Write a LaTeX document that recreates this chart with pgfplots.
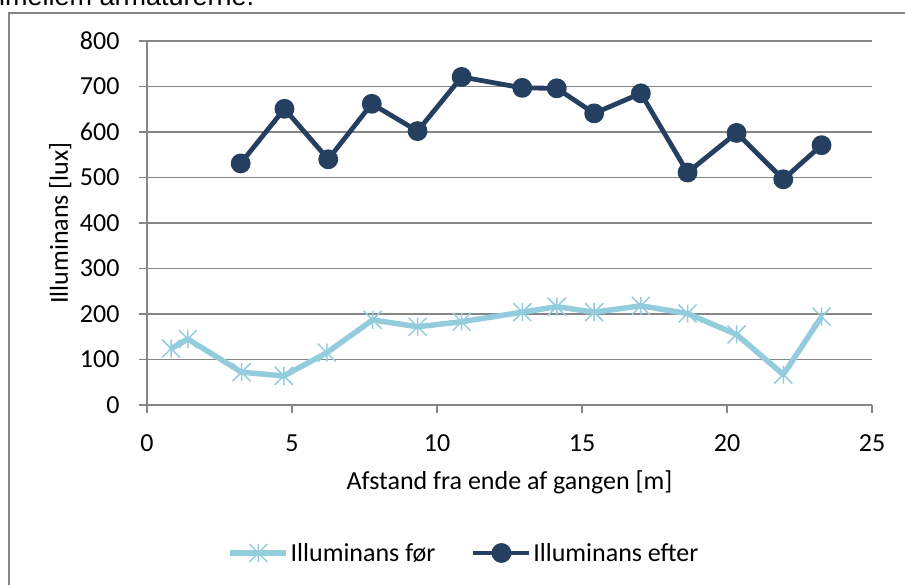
\documentclass[border=0pt]{standalone}
\usepackage{pgfplots}
\pgfplotsset{compat=1.18}
\usepackage{fontspec}
\setmainfont{Carlito}
\newfontfamily\arialfont{Liberation Sans}
\definecolor{before}{HTML}{93CDDD}
\definecolor{after}{HTML}{243F60}
\definecolor{gridgray}{HTML}{868686}
\pgfdeclareplotmark{xstar}{%
 \pgfpathmoveto{\pgfqpoint{0pt}{\pgfplotmarksize}}%
 \pgfpathlineto{\pgfqpoint{0pt}{-\pgfplotmarksize}}%
 \pgfpathmoveto{\pgfqpoint{\pgfplotmarksize}{\pgfplotmarksize}}%
 \pgfpathlineto{\pgfqpoint{-\pgfplotmarksize}{-\pgfplotmarksize}}%
 \pgfpathmoveto{\pgfqpoint{-\pgfplotmarksize}{\pgfplotmarksize}}%
 \pgfpathlineto{\pgfqpoint{\pgfplotmarksize}{-\pgfplotmarksize}}%
 \pgfusepathqstroke}
\begin{document}
\begin{tikzpicture}
\useasboundingbox (0pt,0pt) rectangle (905pt,-585pt);
\clip (0pt,0pt) rectangle (905pt,-585pt);
\node[anchor=base west, inner sep=0pt, font=\arialfont\fontsize{27}{32}\selectfont] at (-1pt,-6pt) {imellem armaturerne.};
\draw[gridgray, line width=1.3pt] (9pt,-600pt) -- (9pt,-13pt) -- (920pt,-13pt);
\begin{axis}[
  at={(147pt,-405pt)}, anchor=south west,
  scale only axis, width=725pt, height=364pt,
  xmin=0, xmax=25, ymin=0, ymax=800,
  xtick={0,5,...,25}, ytick={0,100,...,800},
  axis x line=bottom, axis y line=left,
  axis line style={-, draw=gridgray, line width=1.3pt},
  ymajorgrids, grid style={gridgray, line width=1.3pt},
  tick align=outside, major tick length=8pt,
  tick style={gridgray, line width=1.3pt},
  font=\fontsize{26}{31}\selectfont,
  /pgf/number format/assume math mode=true,
  xticklabel style={yshift=-18.5pt},
  yticklabel style={xshift=-16pt},
  clip=false,
  xlabel={Afstand fra ende af gangen [m]},
  ylabel={Illuminans [lux]},
  xlabel style={at={([yshift=-84pt]axis description cs:0.5,0)}, anchor=base},
  ylabel style={at={([xshift=-79pt]axis description cs:0,0.5)}, anchor=base},
  legend style={at={(0.437,-0.4066)}, anchor=center, draw=none, fill=none,
    legend columns=2, font=\fontsize{26}{31}\selectfont,
    /tikz/every even column/.append style={column sep=34pt},
    inner sep=0pt, nodes={inner sep=1.5pt}},
  legend image code/.code={\draw[mark repeat=2,mark phase=2,#1] plot coordinates {(0pt,0pt) (28pt,0pt) (56pt,0pt)};},
]
\addplot[before, line width=5.5pt, line join=round, mark=xstar, mark size=9pt, mark options={line width=1.5pt}] coordinates {
(0.83,124) (1.41,145) (3.26,72) (4.72,64) (6.20,115) (7.78,187) (9.33,172) (10.85,183)
(12.94,204) (14.13,216) (15.42,204) (17.03,218) (18.64,201) (20.33,155) (21.94,67) (23.26,194)
};
\addlegendentry{Illuminans før}
\addplot[after, line width=4.8pt, line join=round, mark=*, mark size=7.5pt] coordinates {
(3.23,531) (4.74,651) (6.25,540) (7.75,662) (9.33,602) (10.85,721) (12.94,697) (14.13,696)
(15.42,641) (17.03,685) (18.64,511) (20.33,598) (21.94,496) (23.26,571)
};
\addlegendentry{Illuminans efter}
\end{axis}
\end{tikzpicture}
\end{document}
